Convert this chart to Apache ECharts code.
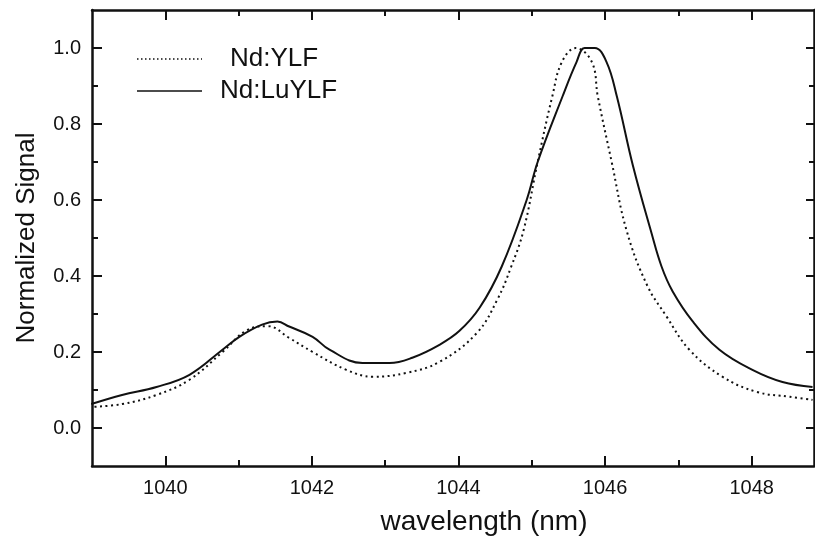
<!doctype html>
<html>
<head>
    <meta charset="utf-8">
    <title>Nd:YLF vs Nd:LuYLF</title>
    <style>
        html,body{margin:0;padding:0;background:#fff;}
        #ID-Chart{width:815px;height:544px;}
    </style>
</head>
<body>
    <div id="ID-Chart"></div>
    <script src="https://cdn.jsdelivr.net/npm/echarts@6/dist/echarts.min.js"></script>
    <script>
        // Nd:YLF (dotted)
        var ylfWavelength=[1038.96,1039.41,1039.88,1040.33,1040.78,1041.11,1041.40,1041.69,1042.01,1042.47,1042.83,1043.29,1043.74,1044.25,1044.53,1044.72,1044.89,1045.08,1045.28,1045.41,1045.60,1045.82,1045.90,1046.09,1046.29,1046.57,1046.84,1047.15,1047.60,1048.07,1048.52,1048.83];
        var ylfSignal=[0.055,0.063,0.087,0.127,0.200,0.257,0.268,0.237,0.200,0.153,0.135,0.145,0.174,0.250,0.338,0.425,0.522,0.700,0.873,0.963,1.000,0.963,0.873,0.700,0.522,0.377,0.293,0.206,0.135,0.095,0.082,0.074];
        // Nd:LuYLF (solid)
        var luylfWavelength=[1038.99,1039.41,1039.88,1040.33,1040.78,1041.01,1041.32,1041.53,1041.69,1042.01,1042.24,1042.69,1043.06,1043.37,1043.74,1044.01,1044.29,1044.59,1044.93,1045.08,1045.42,1045.61,1045.72,1045.86,1046.02,1046.16,1046.38,1046.63,1046.77,1046.92,1047.19,1047.56,1048.01,1048.42,1048.83];
        var luylfSignal=[0.063,0.087,0.108,0.140,0.206,0.240,0.272,0.280,0.267,0.240,0.206,0.171,0.171,0.185,0.219,0.255,0.317,0.425,0.600,0.700,0.873,0.963,1.000,1.000,0.963,0.873,0.690,0.515,0.425,0.360,0.282,0.206,0.153,0.121,0.108];
        // ticks
        var xMajorTicks=[1040,1042,1044,1046,1048];
        var xMinorTicks=[1041,1043,1045,1047];
        var yMajorTicks=[0,0.2,0.4,0.6,0.8,1.0];
        var yMinorTicks=[0.1,0.3,0.5,0.7,0.9];

        var FONT="'Liberation Sans', Arial, sans-serif";
        var INK="#111";

        function zip(xs,ys){
            var out=[];
            for(var i=0;i<xs.length;i++){out.push([xs[i],ys[i]]);}
            return out;
        }

        function xAxisOf(pos,values,len,showLine,showLabel){
            return {
                type:"value",position:pos,min:1039,max:1048.85,
                splitLine:{show:false},
                axisLine:{show:showLine,onZero:false,lineStyle:{color:INK,width:2.5}},
                axisTick:{show:true,inside:true,length:len,customValues:values,lineStyle:{color:INK,width:2}},
                axisLabel:{show:showLabel,customValues:values,margin:12,color:INK,fontSize:20,fontFamily:FONT,
                    formatter:function(v){return String(v);}}
            };
        }
        function yAxisOf(pos,values,len,showLine,showLabel){
            return {
                type:"value",position:pos,min:-0.1,max:1.1,
                splitLine:{show:false},
                axisLine:{show:showLine,onZero:false,lineStyle:{color:INK,width:2.5}},
                axisTick:{show:true,inside:true,length:len,customValues:values,lineStyle:{color:INK,width:2}},
                axisLabel:{show:showLabel,customValues:values,margin:11,color:INK,fontSize:20,fontFamily:FONT,
                    formatter:function(v){return v.toFixed(1);}}
            };
        }

        function render(){
            var chart=echarts.init(document.getElementById("ID-Chart"));
            var xBottom=xAxisOf("bottom",xMajorTicks,10,true,true);
            xBottom.name="wavelength (nm)";
            xBottom.nameLocation="middle";
            xBottom.nameGap=42;
            xBottom.nameTextStyle={color:INK,fontSize:28,fontFamily:FONT,padding:[0,0,0,62]};
            var yLeft=yAxisOf("left",yMajorTicks,10,true,true);
            yLeft.name="Normalized Signal";
            yLeft.nameLocation="middle";
            yLeft.nameGap=52;
            yLeft.nameTextStyle={color:INK,fontSize:26,fontFamily:FONT};

            var option={
                animation:false,
                backgroundColor:"#fff",
                grid:{left:92,right:1,top:10,bottom:78},
                xAxis:[
                    xBottom,
                    xAxisOf("bottom",xMinorTicks,6,false,false),
                    xAxisOf("top",xMajorTicks,10,true,false),
                    xAxisOf("top",xMinorTicks,6,false,false)
                ],
                yAxis:[
                    yLeft,
                    yAxisOf("left",yMinorTicks,6,false,false),
                    yAxisOf("right",yMajorTicks,8,true,false),
                    yAxisOf("right",yMinorTicks,5,false,false)
                ],
                // legend drawn by hand to match the original placement
                graphic:[
                    {type:"line",shape:{x1:137,y1:59,x2:202,y2:59},style:{stroke:INK,lineWidth:1.6,lineDash:[1.5,2.5]}},
                    {type:"text",x:230,y:59,style:{text:"Nd:YLF",fill:INK,font:"26px "+FONT,textVerticalAlign:"middle"}},
                    {type:"line",shape:{x1:137,y1:91,x2:202,y2:91},style:{stroke:INK,lineWidth:1.6}},
                    {type:"text",x:220,y:91,style:{text:"Nd:LuYLF",fill:INK,font:"26px "+FONT,textVerticalAlign:"middle"}}
                ],
                series:[
                    {
                        name:"Nd:YLF",type:"line",xAxisIndex:0,yAxisIndex:0,
                        data:zip(ylfWavelength,ylfSignal),
                        showSymbol:false,smooth:0.4,
                        lineStyle:{color:INK,width:2,type:[2,3.5]}
                    },
                    {
                        name:"Nd:LuYLF",type:"line",xAxisIndex:0,yAxisIndex:0,
                        data:zip(luylfWavelength,luylfSignal),
                        showSymbol:false,smooth:0.4,
                        lineStyle:{color:INK,width:2}
                    }
                ]
            };
            chart.setOption(option);
        }

        window.addEventListener("load",function(){
            render();
        },false);
    </script>
</body>
</html>
